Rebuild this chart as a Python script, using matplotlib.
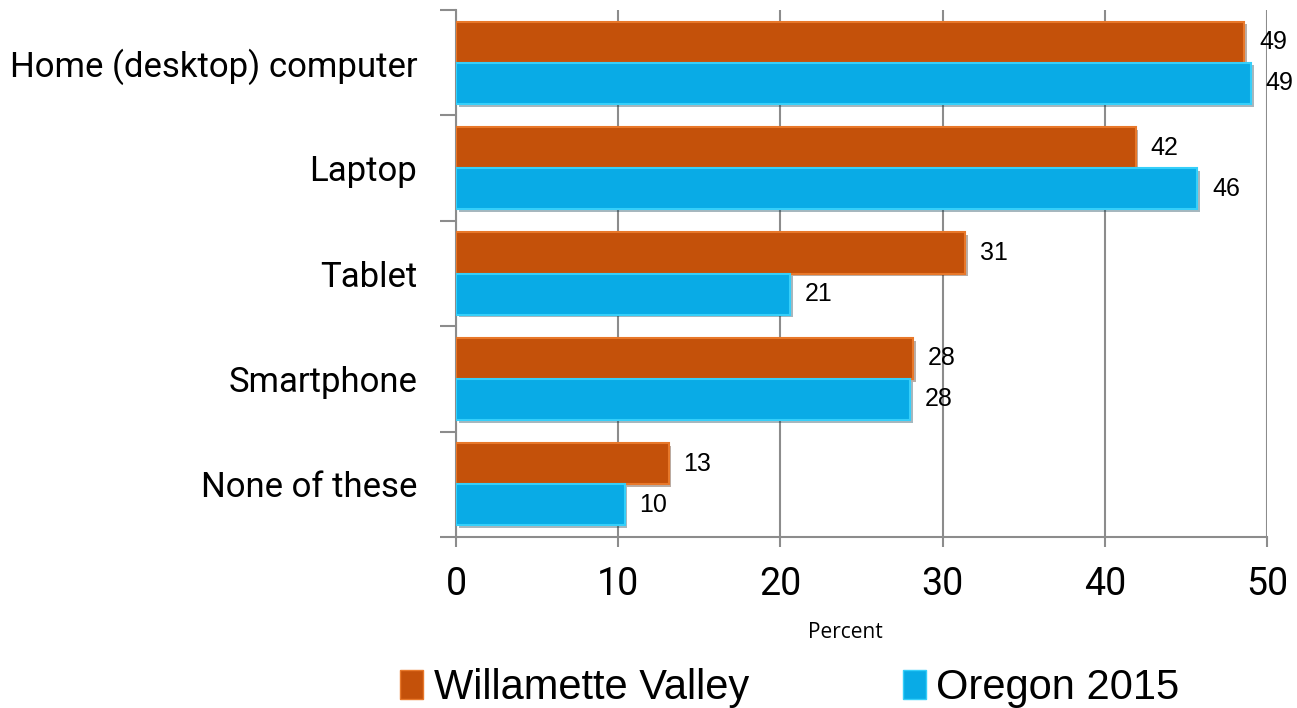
import numpy as np
import matplotlib
matplotlib.use("Agg")
import matplotlib.pyplot as plt
import matplotlib.patheffects as pe
from matplotlib.patches import Patch

# device ownership, percent of respondents
categories = ["Home (desktop) computer", "Laptop", "Tablet", "Smartphone", "None of these"]
willamette = [48.6, 41.9, 31.4, 28.2, 13.1]
oregon = [49.0, 45.7, 20.6, 28.0, 10.4]
series_names = ["Willamette Valley", "Oregon 2015"]

orange = "#C4510A"
orange_edge = "#E8782A"
blue = "#09ABE6"
blue_edge = "#35CFFA"
grid_col = "#8C8C8C"

axis_font = "Roboto"

fig = plt.figure(figsize=(12.97, 7.08), dpi=100)
ax = fig.add_axes([0.3516, 0.2415, 0.6253, 0.7444])

y = np.arange(len(categories))
h = 0.39
shadow = [pe.SimplePatchShadow(offset=(2, -2), alpha=0.35), pe.Normal()]

b1 = ax.barh(y - h/2, willamette, height=h, color=orange, edgecolor=orange_edge,
             linewidth=1.5, zorder=3)
b2 = ax.barh(y + h/2, oregon, height=h, color=blue, edgecolor=blue_edge,
             linewidth=1.5, zorder=3)
for b in list(b1) + list(b2):
    b.set_path_effects(shadow)

for bars, vals in ((b1, willamette), (b2, oregon)):
    for bar, v in zip(bars, vals):
        ax.annotate("{:.0f}".format(v), (v, bar.get_y() + bar.get_height()/2),
                    xytext=(10.5, 0), textcoords="offset points",
                    ha="left", va="center", fontsize=18,
                    family="Liberation Sans", zorder=4)

ax.set_xlim(0, 50)
ax.set_ylim(len(categories) - 0.5, -0.5)
ax.set_xticks(np.arange(0, 51, 10))
ax.set_yticks(y)
ax.set_yticklabels(categories, family=axis_font, fontsize=25)
ax.set_yticks(np.arange(-0.5, len(categories)), minor=True)
ax.tick_params(axis="y", which="major", length=0, pad=28)
ax.tick_params(axis="y", which="minor", length=11.5, width=1.5, color=grid_col)
ax.tick_params(axis="x", length=7, width=1.5, color=grid_col, pad=14, labelsize=27)
for lbl in ax.get_xticklabels():
    lbl.set_family(axis_font)

ax.grid(axis="x", color=grid_col, linewidth=1.5, zorder=0)
ax.set_axisbelow(True)
for s in ("top", "right"):
    ax.spines[s].set_visible(False)
for s in ("left", "bottom"):
    ax.spines[s].set_color(grid_col)
    ax.spines[s].set_linewidth(1.5)

fig.text(0.652, 0.107, "Percent", ha="center", va="center", fontsize=15,
         family="Open Sans")

handles = [Patch(facecolor=orange, edgecolor=orange_edge),
           Patch(facecolor=blue, edgecolor=blue_edge)]
fig.legend(handles, series_names, loc="center", bbox_to_anchor=(0.609, 0.028),
           ncol=2, frameon=False, prop={"family": "Liberation Sans", "size": 30},
           handlelength=0.55, handleheight=0.7, handletextpad=0.25,
           columnspacing=3.7, borderaxespad=0, borderpad=0)

fig.savefig("out.png", dpi=100)
